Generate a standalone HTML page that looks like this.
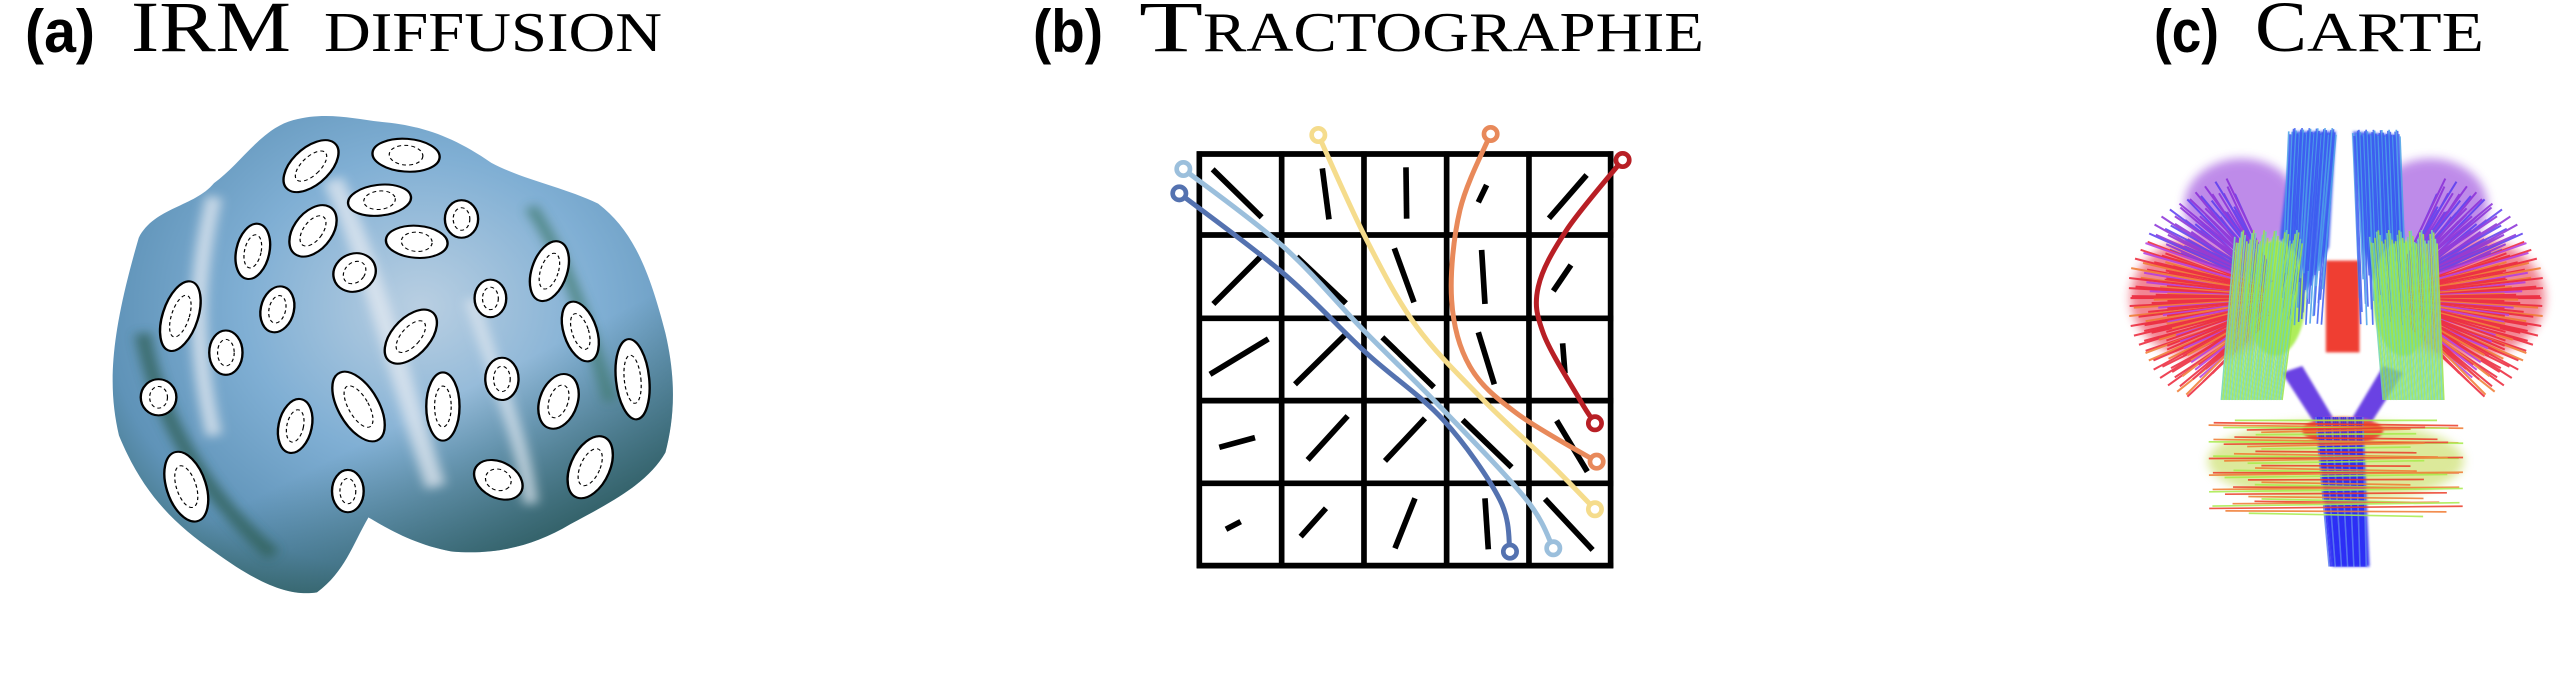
<!DOCTYPE html>
<html><head><meta charset="utf-8"><style>
html,body{margin:0;padding:0;background:#fff;width:2566px;height:698px;overflow:hidden}
svg{display:block}
</style></head><body>
<svg id="fig" width="2566" height="698" viewBox="0 0 2566 698" xmlns="http://www.w3.org/2000/svg">
<defs>
<radialGradient id="brainGrad" cx="0.55" cy="0.4" r="0.7">
<stop offset="0" stop-color="#b9cfe2"/><stop offset="0.45" stop-color="#80afd4"/><stop offset="0.8" stop-color="#5f93b8"/><stop offset="1" stop-color="#3d6f77"/>
</radialGradient>
<linearGradient id="brainShade" x1="0" y1="0" x2="0.6" y2="1">
<stop offset="0" stop-color="#000" stop-opacity="0"/><stop offset="0.7" stop-color="#1e4a44" stop-opacity="0"/><stop offset="1" stop-color="#1e4a44" stop-opacity="0.7"/>
</linearGradient>
<filter id="blur4"><feGaussianBlur stdDeviation="4"/></filter>
<filter id="blur14"><feGaussianBlur stdDeviation="14"/></filter>
</defs>

<g>
<text x="25" y="52" font-family="Liberation Sans, sans-serif" font-weight="bold" font-size="60" textLength="70" lengthAdjust="spacingAndGlyphs">(a)</text>
<text x="131" y="51" font-family="Liberation Serif, serif" font-size="72" textLength="160" lengthAdjust="spacingAndGlyphs">IRM</text>
<text x="324" y="51" font-family="Liberation Serif, serif" font-size="56" textLength="338" lengthAdjust="spacingAndGlyphs">DIFFUSION</text>
</g>
<g>
<text x="1033" y="52" font-family="Liberation Sans, sans-serif" font-weight="bold" font-size="60" textLength="70" lengthAdjust="spacingAndGlyphs">(b)</text>
<text x="1139" y="51" font-family="Liberation Serif, serif" font-size="72" textLength="64" lengthAdjust="spacingAndGlyphs">T</text>
<text x="1203" y="51" font-family="Liberation Serif, serif" font-size="56" textLength="501" lengthAdjust="spacingAndGlyphs">RACTOGRAPHIE</text>
</g>
<g>
<text x="2154" y="52" font-family="Liberation Sans, sans-serif" font-weight="bold" font-size="60" textLength="65" lengthAdjust="spacingAndGlyphs">(c)</text>
<text x="2255" y="51" font-family="Liberation Serif, serif" font-size="72" textLength="52" lengthAdjust="spacingAndGlyphs">C</text>
<text x="2307" y="51" font-family="Liberation Serif, serif" font-size="56" textLength="177" lengthAdjust="spacingAndGlyphs">ARTE</text>
</g>

<g id="brain" transform="translate(95.2,94.5) scale(0.396,0.341)">
<path fill="url(#brainGrad)" d="M60,1000 C30,850 40,700 110,420 C150,330 250,330 300,260 C370,200 420,100 500,75 C580,50 650,70 720,80 C820,90 900,120 1000,200 C1080,250 1180,270 1270,320 C1360,400 1400,520 1440,700 C1470,850 1460,960 1440,1050 C1400,1130 1330,1180 1200,1260 C1100,1330 1000,1350 900,1340 C800,1320 720,1260 690,1240 C650,1320 630,1400 560,1460 C500,1470 430,1450 300,1340 C200,1260 120,1170 60,1000 Z"/>
<path fill="url(#brainShade)" d="M60,1000 C30,850 40,700 110,420 C150,330 250,330 300,260 C370,200 420,100 500,75 C580,50 650,70 720,80 C820,90 900,120 1000,200 C1080,250 1180,270 1270,320 C1360,400 1400,520 1440,700 C1470,850 1460,960 1440,1050 C1400,1130 1330,1180 1200,1260 C1100,1330 1000,1350 900,1340 C800,1320 720,1260 690,1240 C650,1320 630,1400 560,1460 C500,1470 430,1450 300,1340 C200,1260 120,1170 60,1000 Z"/>
<g filter="url(#blur14)" opacity="0.75">
<path d="M300,300 C260,500 240,700 300,1000" stroke="#e6ebf2" stroke-width="40" fill="none"/>
<path d="M600,250 C700,500 760,800 860,1150" stroke="#e3e9f1" stroke-width="50" fill="none"/>
<path d="M950,600 C1000,800 1080,1000 1100,1200" stroke="#dde6ef" stroke-width="35" fill="none"/>
<path d="M1100,330 C1200,500 1250,700 1300,900" stroke="#3f7a6e" stroke-width="30" fill="none"/>
<path d="M120,700 C150,900 250,1150 450,1350" stroke="#2e5f55" stroke-width="40" fill="none"/>
</g>
<g id="ellipses"></g>
</g>

<g id="tract" transform="translate(1150,100) scale(0.3333)"></g>

<g id="map" transform="translate(2093.3,94) scale(0.337,0.34)">
<g filter="url(#blur14)" opacity="0.55">
<ellipse cx="330" cy="600" rx="220" ry="180" fill="#e8243a"/>
<ellipse cx="1110" cy="600" rx="230" ry="180" fill="#e8243a"/>
<ellipse cx="440" cy="330" rx="170" ry="140" fill="#8a2fd8"/>
<ellipse cx="1000" cy="330" rx="170" ry="140" fill="#8a2fd8"/>
<ellipse cx="720" cy="1080" rx="380" ry="120" fill="#c0d84a"/>
</g>
<g filter="url(#blur4)" opacity="0.9">
<polygon points="590,110 720,110 700,450 560,720 520,700" fill="#3b5cf0"/>
<polygon points="770,110 900,120 940,700 880,720 800,450" fill="#3b5cf0"/>
<ellipse cx="540" cy="600" rx="90" ry="170" fill="#a6ec4a"/>
<ellipse cx="920" cy="600" rx="90" ry="170" fill="#a6ec4a"/>
<rect x="690" y="490" width="100" height="270" fill="#ee2a1e"/>
<polygon points="560,820 620,800 740,1000 690,1020" fill="#5a2ee0"/>
<polygon points="920,820 860,800 740,1000 790,1020" fill="#5a2ee0"/>
<polygon points="660,960 800,960 820,1390 710,1390" fill="#2a2cf5"/>
<ellipse cx="740" cy="990" rx="120" ry="40" fill="#e8402a"/>
</g>
<g id="fibers" fill="none" opacity="0.85"></g>
</g>
</svg>
<script>
const ellCx  = [545,785,718,925,550,398,812,655,1147,998,215,460,797,330,1225,1357,160,1027,665,878,1170,505,1018,638,230,1250];
const ellCy  = [210,178,310,365,400,460,432,522,518,598,650,630,710,757,695,835,888,834,915,915,900,972,1130,1163,1150,1093];
const ellRx  = [50,85,80,42,50,42,78,52,45,40,45,42,50,42,42,42,45,42,52,42,48,42,68,40,50,50];
const ellRy  = [90,48,45,55,82,82,47,58,90,55,105,68,90,65,90,118,53,62,110,100,82,80,50,62,105,95];
const ellRot = [40,5,-8,0,30,10,5,30,15,0,15,10,35,0,-15,-5,0,0,-25,0,15,10,40,0,-15,20];
const NS='http://www.w3.org/2000/svg';
const eg=document.getElementById('ellipses');
for(let i=0;i<ellCx.length;i++){
  const g=document.createElementNS(NS,'g');
  
  
  g.setAttribute('transform',`translate(${ellCx[i]},${ellCy[i]}) rotate(${ellRot[i]})`);
  const e=document.createElementNS(NS,'ellipse');
  e.setAttribute('rx',ellRx[i]);e.setAttribute('ry',ellRy[i]);
  e.setAttribute('fill','#fff');e.setAttribute('stroke','#000');e.setAttribute('stroke-width','6');
  g.appendChild(e);
  const d=document.createElementNS(NS,'ellipse');
  d.setAttribute('rx',ellRx[i]*0.5);d.setAttribute('ry',ellRy[i]*0.6);
  d.setAttribute('fill','none');d.setAttribute('stroke','#000');d.setAttribute('stroke-width','3');d.setAttribute('stroke-dasharray','10 8');
  g.appendChild(d);
  eg.appendChild(g);
}

const gridX=[148,395,642,890,1137,1382];
const gridY=[162,405,655,902,1150,1397];
const stickX1=[188,517,768,1010,1310, 340,440,733,995,1263, 355,585,697,985,1238, 208,593,825,938,1220, 228,528,795,1005,1185];
const stickY1=[208,205,202,255,225, 462,470,445,450,495, 717,705,712,697,730, 1042,948,955,960,962, 1288,1225,1195,1195,1197];
const stickX2=[335,537,770,985,1197, 190,588,792,1005,1210, 180,435,852,1033,1245, 315,473,705,1085,1312, 272,452,735,1015,1328];
const stickY2=[352,358,356,307,355, 612,610,607,612,573, 823,853,862,853,820, 1013,1080,1083,1102,1115, 1265,1310,1345,1348,1350];
const tr=document.getElementById('tract');
for(let i=0;i<gridX.length;i++){
  const l=document.createElementNS(NS,'line');
  
  
  l.setAttribute('x1',gridX[i]);l.setAttribute('x2',gridX[i]);l.setAttribute('y1',gridY[0]-8);l.setAttribute('y2',gridY[5]+8);
  l.setAttribute('stroke','#000');l.setAttribute('stroke-width','17');
  tr.appendChild(l);
}
for(let i=0;i<gridY.length;i++){
  const l=document.createElementNS(NS,'line');
  
  
  l.setAttribute('y1',gridY[i]);l.setAttribute('y2',gridY[i]);l.setAttribute('x1',gridX[0]-8);l.setAttribute('x2',gridX[5]+8);
  l.setAttribute('stroke','#000');l.setAttribute('stroke-width','17');
  tr.appendChild(l);
}
for(let i=0;i<stickX1.length;i++){
  const l=document.createElementNS(NS,'line');
  
  
  l.setAttribute('x1',stickX1[i]);l.setAttribute('y1',stickY1[i]);l.setAttribute('x2',stickX2[i]);l.setAttribute('y2',stickY2[i]);
  l.setAttribute('stroke','#000');l.setAttribute('stroke-width','17');
  tr.appendChild(l);
}
const fiberColors=['#9bbfdc','#5472b0','#f5dc8c','#e8895a','#b81f25'];
const fiberX=[[100,400,640,880,1130,1210],[88,400,650,880,1050,1080],[505,650,800,1000,1200,1335],[1022,930,905,960,1100,1340],[1418,1250,1165,1180,1290,1335]];
const fiberY=[[207,440,690,930,1200,1345],[280,520,760,960,1200,1355],[105,420,680,900,1090,1228],[102,330,600,800,940,1085],[180,390,560,700,900,970]];
function crPath(xs,ys){
  let d=`M${xs[0]},${ys[0]}`;
  for(let i=0;i<xs.length-1;i++){
    const x0=xs[Math.max(0,i-1)],y0=ys[Math.max(0,i-1)],x3=xs[Math.min(xs.length-1,i+2)],y3=ys[Math.min(xs.length-1,i+2)];
    const c1x=xs[i]+(xs[i+1]-x0)/6,c1y=ys[i]+(ys[i+1]-y0)/6,c2x=xs[i+1]-(x3-xs[i])/6,c2y=ys[i+1]-(y3-ys[i])/6;
    d+=` C${c1x},${c1y} ${c2x},${c2y} ${xs[i+1]},${ys[i+1]}`;
  }
  return d;
}
for(let f=0;f<fiberX.length;f++){
  const p=document.createElementNS(NS,'path');
  
  
  p.setAttribute('d',crPath(fiberX[f],fiberY[f]));
  p.setAttribute('stroke',fiberColors[f]);p.setAttribute('stroke-width','15');p.setAttribute('fill','none');
  tr.appendChild(p);
  const ends=[0,fiberX[f].length-1];
  for(const k of ends){
    const c=document.createElementNS(NS,'circle');
    
    
    c.setAttribute('cx',fiberX[f][k]);c.setAttribute('cy',fiberY[f][k]);c.setAttribute('r','20');
    c.setAttribute('fill','#fff');c.setAttribute('stroke',fiberColors[f]);c.setAttribute('stroke-width','14');
    tr.appendChild(c);
  }
}
// fiber texture for map (deterministic)
const fg=document.getElementById('fibers');
function addLine(x1,y1,x2,y2,col,w){
  const p=document.createElementNS(NS,'line');
  
  
  p.setAttribute('x1',x1);p.setAttribute('y1',y1);p.setAttribute('x2',x2);p.setAttribute('y2',y2);
  p.setAttribute('stroke',col);p.setAttribute('stroke-width',w);
  fg.appendChild(p);
}
// lateral fans
for(let side=0;side<2;side++){
  const cx=side?900:540, cy=600, dir=side?1:-1;
  for(let i=0;i<140;i++){
    const t=i/139;
    const a=(-1.25+2.2*t);
    const r1=80+30*Math.sin(i*2.3), r2=380+60*Math.sin(i*1.3);
    const col=t<0.35?(i%3?'#8a2fd8':'#5a3cf0'):(i%4===0?'#f07a30':(i%5===0?'#b43ce0':'#ec2438'));
    addLine(cx+dir*r1*Math.cos(a)*0.6,cy+r1*Math.sin(a),cx+dir*r2*Math.cos(a),cy+r2*0.85*Math.sin(a),col,6);
  }
}
// vertical blue bundles
for(let i=0;i<40;i++){
  const t=i/39;
  addLine(580+140*t,110+10*Math.sin(i),560+120*t,600+80*Math.sin(i*1.7),i%3?'#3b5cf0':'#4aa0e8',5);
  addLine(770+140*t,115+10*Math.sin(i),790+140*t,600+80*Math.sin(i*1.3),i%3?'#3b5cf0':'#4aa0e8',5);
}
// brainstem
for(let i=0;i<25;i++){
  const t=i/24;
  addLine(660+140*t,950,700+110*t,1390,i%4?'#2a2cf5':'#5a7cf0',5);
}
// green strands
for(let i=0;i<40;i++){
  const t=i/39;
  addLine(420+200*t,420+20*Math.sin(i),380+180*t,900,i%2?'#9ae44a':'#6fd6b0',5);
  addLine(820+200*t,420+20*Math.sin(i),860+180*t,900,i%2?'#9ae44a':'#6fd6b0',5);
}
// lower horizontal bands
for(let i=0;i<40;i++){
  const y=960+i*7;
  const half=300+80*Math.sin(i*0.9);
  addLine(720-half,y,720+half,y+10*Math.sin(i),i%3===0?'#a6ec4a':(i%3===1?'#ec3b28':'#f07a30'),5);
}
</script>
</body></html>
